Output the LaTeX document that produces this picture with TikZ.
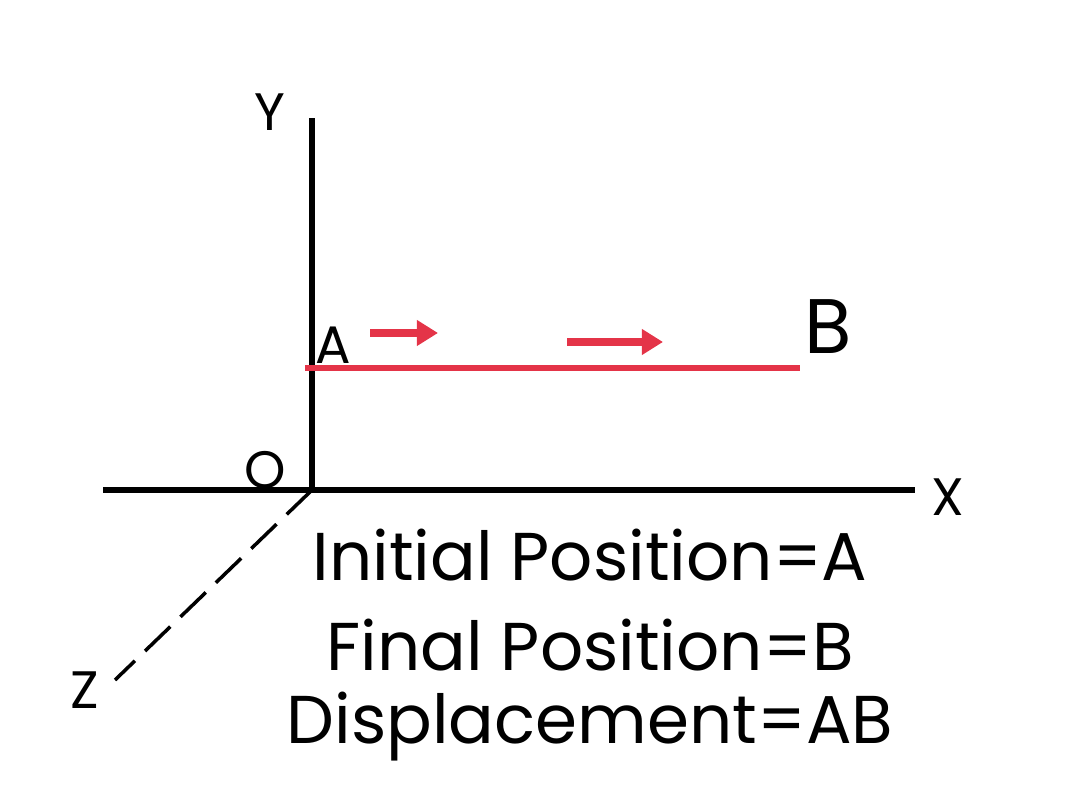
\documentclass[tikz,border=0pt]{standalone}
\usepackage{fontspec}
\setmainfont{Poppins}
\usetikzlibrary{arrows.meta}
\definecolor{pathred}{RGB}{228,52,72}
\tikzset{axis/.style={line width=3pt},
  redline/.style={pathred,line width=3pt},
  redarrow/.style={pathred,line width=4pt,-{Triangle[length=12pt,width=14pt]}},
  lbl/.style={font=\fontsize{30}{30}\selectfont},
  info/.style={font=\fontsize{38.5}{44}\selectfont}}
\begin{document}
\begin{tikzpicture}
  \useasboundingbox (0,0) rectangle (21.6,16);
  \coordinate (O) at (6.24,6.2);
  \coordinate (ytop) at (6.24,13.64);
  \coordinate (xl) at (2.06,6.2);
  \coordinate (xr) at (18.3,6.2);
  \coordinate (zend) at (2.3,2.4);
  \coordinate (A) at (6.1,8.64);
  \coordinate (Bend) at (16.0,8.64);
  \draw[axis] (O) -- (ytop);
  \draw[axis] (xl) -- (xr);
  \draw[line width=2pt,dash pattern=on 20pt off 8pt] (O) -- (zend);
  \draw[redline] (A) -- (Bend);
  \coordinate (a1) at (7.4,9.34);
  \coordinate (a2) at (8.76,9.34);
  \coordinate (a3) at (11.34,9.16);
  \coordinate (a4) at (13.26,9.16);
  \draw[redarrow] (a1) -- (a2);
  \draw[redarrow] (a3) -- (a4);
  \node[lbl] (ylabel) at (5.4,13.76) {Y};
  \node[lbl] (xlabel) at (18.96,6.06) {X};
  \node[lbl] (zlabel) at (1.7,2.2) {Z};
  \node[lbl] (olabel) at (5.3,6.6) {O};
  \node[lbl] (alabel) at (6.66,9.1) {A};
  \node[font=\fontsize{44}{44}\selectfont] (blabel) at (16.56,9.46) {B};
  \node[info] (init) at (11.8,4.9) {Initial Position=A};
  \node[info] (final) at (11.8,3.1) {Final Position=B};
  \node[info] (disp) at (11.8,1.46) {Displacement=AB};
\end{tikzpicture}
\end{document}
